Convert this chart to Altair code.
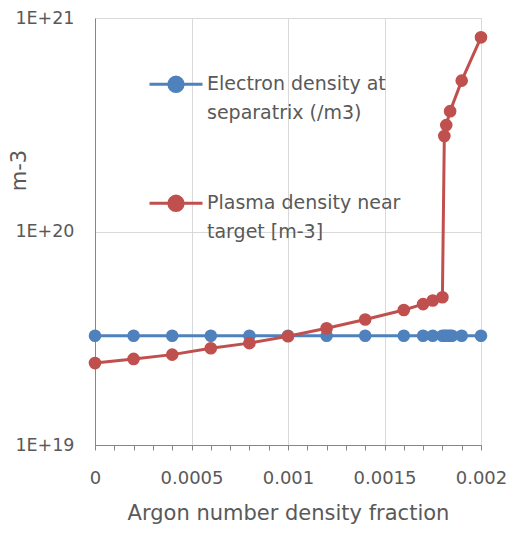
import altair as alt
import pandas as pd

series_names = ["Electron density at separatrix (/m3)", "Plasma density near target [m-3]"]

ne_x = [0, 0.0002, 0.0004, 0.0006, 0.0008, 0.001, 0.0012, 0.0014, 0.0016, 0.0017,
        0.00175, 0.0018, 0.00181, 0.00182, 0.00183, 0.00184, 0.00185, 0.0019, 0.002]
ne_y = [3.25e19] * len(ne_x)

np_x = [0, 0.0002, 0.0004, 0.0006, 0.0008, 0.001, 0.0012, 0.0014, 0.0016, 0.0017,
        0.00175, 0.0018, 0.00181, 0.00182, 0.00184, 0.0019, 0.002]
np_y = [2.42e19, 2.53e19, 2.65e19, 2.84e19, 3.0e19, 3.23e19, 3.52e19, 3.87e19, 4.29e19, 4.57e19,
        4.75e19, 4.92e19, 2.8e20, 3.15e20, 3.66e20, 5.09e20, 8.12e20]

x_ticks = [round(i * 0.0001, 4) for i in range(21)]
y_ticks = [1e19, 1e20, 1e21]

rows = []
for i, (xv, yv) in enumerate(zip(ne_x, ne_y)):
    rows.append({"x": xv, "y": yv, "series": series_names[0], "order": i})
for i, (xv, yv) in enumerate(zip(np_x, np_y)):
    rows.append({"x": xv, "y": yv, "series": series_names[1], "order": i})
df = pd.DataFrame(rows)

FONT = "DejaVu Sans"
TXT = "#595959"
AXC = "#868686"
GRID = "#D9D9D9"

dy = 0.35
sym_path = (
    f"M-1,{dy}H1M0.27,{dy}A0.27,0.27,0,1,1,-0.27,{dy}A0.27,0.27,0,1,1,0.27,{dy}Z"
)

color = alt.Color(
    "series:N",
    scale=alt.Scale(domain=series_names, range=["#4F81BD", "#C0504D"]),
    legend=alt.Legend(
        title=None,
        orient="none",
        legendX=53,
        legendY=29,
        symbolType=sym_path,
        symbolSize=2809,
        symbolStrokeWidth=3,
        labelFont=FONT,
        labelFontSize=19,
        labelColor=TXT,
        labelLimit=400,
        labelOffset=3,
        labelBaseline="top",
        labelExpr="split(replace(replace(datum.label, 'density at ', 'density at|'), 'near ', 'near|'), '|')",
        rowPadding=43,
    ),
)

x_enc = alt.X(
    "x:Q",
    scale=alt.Scale(domain=[0, 0.002], nice=False, zero=False),
    axis=alt.Axis(
        title="Argon number density fraction",
        values=x_ticks,
        labelExpr="round(datum.value*10000) % 5 == 0 ? toString(round(datum.value*10000)/10000) : ''",
        gridOpacity={"condition": {"test": "round(datum.value*10000) % 5 == 0", "value": 1}, "value": 0},
        gridColor=GRID,
        tickSize=5,
        tickColor=AXC,
        domainColor=AXC,
        labelFont=FONT,
        labelFontSize=18,
        labelColor=TXT,
        labelPadding=19,
        labelOverlap=False,
        labelFlush=False,
        titleFont=FONT,
        titleFontSize=21,
        titleFontWeight="normal",
        titleColor=TXT,
        titlePadding=15,
    ),
)
y_enc = alt.Y(
    "y:Q",
    scale=alt.Scale(type="log", domain=[1e19, 1e21], nice=False),
    axis=alt.Axis(
        title="m-3",
        values=y_ticks,
        labelExpr="'1E+' + round(log(datum.value)/LN10)",
        ticks=False,
        gridColor=GRID,
        domainColor=AXC,
        labelFont=FONT,
        labelFontSize=17.5,
        labelColor=TXT,
        labelPadding=21,
        titleFont=FONT,
        titleFontSize=21,
        titleFontWeight="normal",
        titleColor=TXT,
        titleX=-76,
        titleY=152,
        titleAngle=-90,
        titleBaseline="middle",
        titleAlign="center",
    ),
)

base = alt.Chart(df)
lines = base.mark_line(strokeWidth=3).encode(x=x_enc, y=y_enc, color=color, order="order:Q")
points = base.mark_point(filled=True, size=160, opacity=1).encode(x=x_enc, y=y_enc, color=color)

chart = (
    alt.layer(lines, points)
    .properties(
        width=386,
        height=427,
        autosize="none",
        padding={"left": 87, "top": 10, "right": 26, "bottom": 80},
    )
    .configure_view(stroke=AXC, strokeWidth=1)
    .configure(style={"guide-label": {"lineHeight": 28.5}})
)

chart.save("out.html", embed_options={"renderer": "svg", "actions": False})
